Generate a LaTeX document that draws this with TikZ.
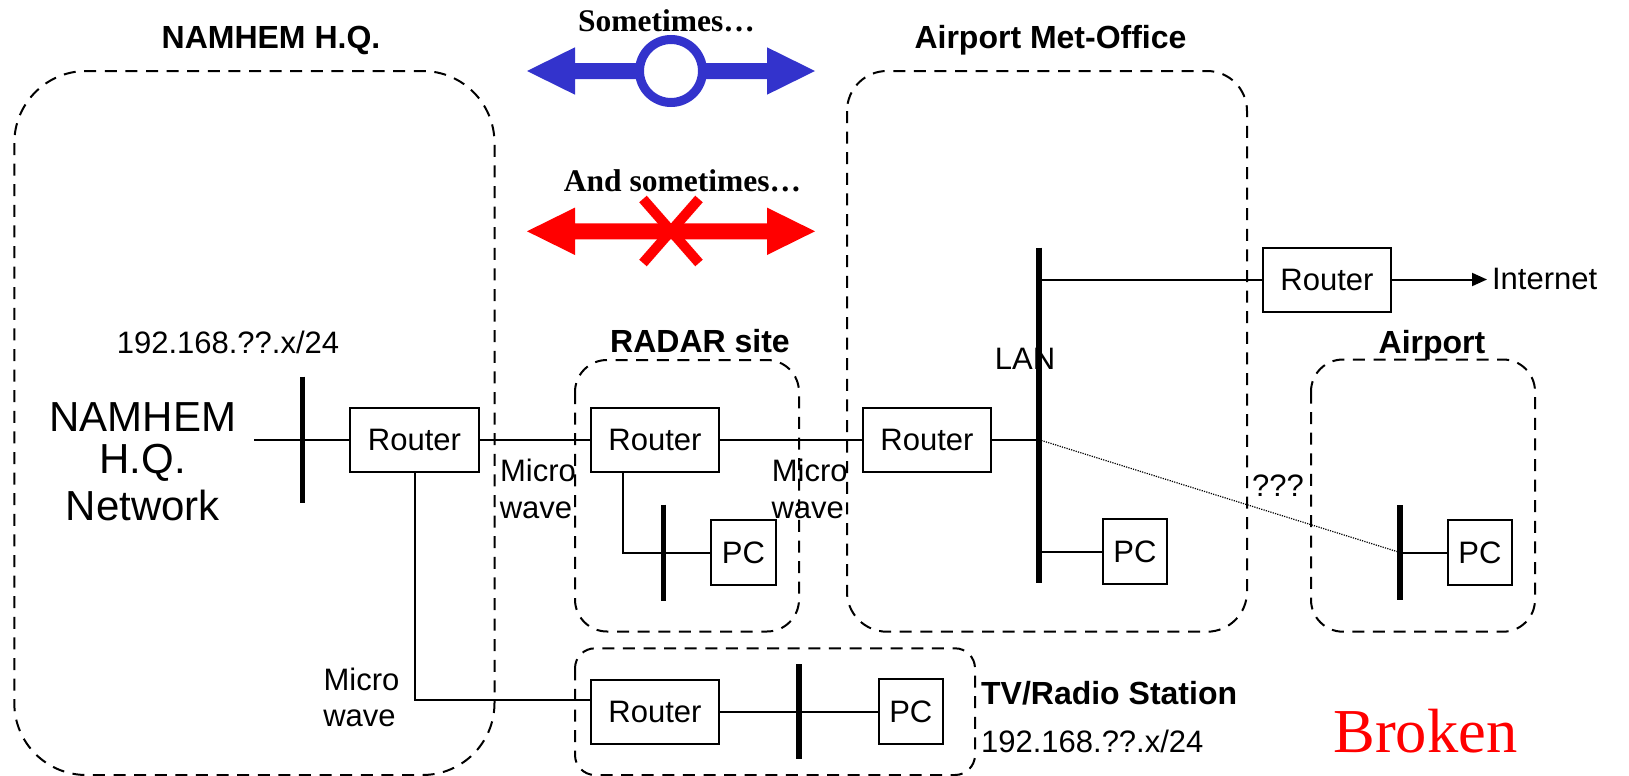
\documentclass[tikz,border=0pt]{standalone}
\usepackage{fontspec}
\setmainfont{Liberation Sans}
\newfontfamily\timesfont{Liberation Serif}
\usetikzlibrary{arrows.meta}
\definecolor{arrowblue}{RGB}{51,51,204}
\newcommand\nsz{\fontsize{15.5}{18}\selectfont}
\newcommand\bsz{\fontsize{16}{19}\selectfont\bfseries}
\begin{document}
\begin{tikzpicture}[x=0.5pt,y=-0.5pt,
  wire/.style={line width=1pt},
  dotwire/.style={line width=0.6pt, dash pattern=on 0.6pt off 0.6pt},
  bus/.style={line width=2.6pt},
  zone/.style={draw, line width=1pt, dash pattern=on 6pt off 4.3pt},
  router/.style={draw, fill=white, line width=1pt, minimum width=64.3pt, minimum height=32pt, inner sep=0pt, font=\nsz},
  pc/.style={draw, fill=white, line width=1pt, minimum width=32.3pt, minimum height=32.3pt, inner sep=0pt, font=\nsz},
  lbl/.style={inner sep=0pt, font=\nsz},
  bigl/.style={inner sep=0pt, font=\fontsize{21}{22}\selectfont},
  ttl/.style={inner sep=0pt, font=\bsz},
  serifb/.style={inner sep=0pt, font=\timesfont\bfseries\fontsize{15.75}{18}\selectfont},
]
\useasboundingbox (0,0) rectangle (1629,776);

% zones
\draw[zone, rounded corners=36pt] (14.3,71) rectangle (494.5,775);
\draw[zone, rounded corners=20pt] (847,71) rectangle (1247,631.7);
\draw[zone, rounded corners=16pt] (575,360) rectangle (799,631.5);
\draw[zone, rounded corners=16pt] (1311,359.5) rectangle (1535,631.7);
\draw[zone, rounded corners=10pt] (575,648.3) rectangle (975,775);

% titles
\node[ttl, anchor=base] (tHQ) at (271,48) {NAMHEM H.Q.};
\node[ttl, anchor=base] (tMet) at (1050.5,48.3) {Airport Met-Office};
\node[ttl, anchor=base] (tRadar) at (700,352.7) {RADAR site};
\node[ttl, anchor=base] (tAirport) at (1432,353.3) {Airport};
\node[ttl, anchor=base west] (tTV) at (980.7,704) {TV/Radio Station};
\node[lbl, anchor=base west] (ipTV) at (980.7,752.7) {192.168.??.x/24};
\node[lbl, anchor=base] (ipHQ) at (228,353.3) {192.168.??.x/24};

% HQ network label
\node[bigl, anchor=base] (hq1) at (142.7,431.7) {NAMHEM};
\node[bigl, anchor=base] (hq2) at (142.7,473.3) {H.Q.};
\node[bigl, anchor=base] (hq3) at (142.7,520) {Network};

% microwave labels
\node[lbl, anchor=base] (mw1a) at (538,481.7) {Micro};
\node[lbl, anchor=base] (mw1b) at (536,518.3) {wave};
\node[lbl, anchor=base] (mw2a) at (809.7,481.7) {Micro};
\node[lbl, anchor=base] (mw2b) at (807.7,518.3) {wave};
\node[lbl, anchor=base] (mw3a) at (361.5,690) {Micro};
\node[lbl, anchor=base] (mw3b) at (359.5,726.7) {wave};

\node[lbl, anchor=base] (lan) at (1025,369.3) {LAN};
\node[lbl, anchor=base west] (qqq) at (1251.7,496.7) {???};
\node[lbl, anchor=base west] (inet) at (1491.7,289.3) {Internet};

% top legend
\node[serifb, anchor=base] (some1) at (666.5,32) {Sometimes…};
\node[serifb, anchor=base] (some2) at (682.5,191.7) {And sometimes…};
\fill[arrowblue] (527,71) -- (575,47.3) -- (575,63) -- (767,63) -- (767,47.3) -- (815,71)
  -- (767,94.7) -- (767,79) -- (575,79) -- (575,94.7) -- cycle;
\draw[arrowblue, line width=4.5pt, fill=white] (671,71) circle[radius=15.75pt];
\fill[red] (527,231.3) -- (575,207.6) -- (575,223.3) -- (767,223.3) -- (767,207.6) -- (815,231.3)
  -- (767,255) -- (767,239.3) -- (575,239.3) -- (575,255) -- cycle;
\draw[red, line width=5pt] (643,199) -- (699,263) (699,199) -- (643,263);

\node[inner sep=0pt, font=\timesfont\fontsize{31.25}{36}\selectfont, text=red, anchor=base west] (broken) at (1333,752) {Broken};

% devices
\node[router] (hqR) at (414.5,439.7) {Router};
\node[router] (rdR) at (655,439.7) {Router};
\node[router] (mtR) at (927,439.7) {Router};
\node[router] (inR) at (1327,279.5) {Router};
\node[router] (tvR) at (655,711.5) {Router};
\node[pc] (rdPC) at (743.5,552.6) {PC};
\node[pc] (mtPC) at (1135,551.7) {PC};
\node[pc] (apPC) at (1480,552.5) {PC};
\node[pc] (tvPC) at (910.8,711.5) {PC};

% buses
\coordinate (hqBt) at (302.7,376.7); \coordinate (hqBb) at (302.7,502.7);
\coordinate (rdBt) at (663.3,504.7); \coordinate (rdBb) at (663.3,600.7);
\coordinate (lnBt) at (1039,247.7);  \coordinate (lnBb) at (1039,583.3);
\coordinate (apBt) at (1400,505);    \coordinate (apBb) at (1400,600);
\coordinate (tvBt) at (799,664.3);   \coordinate (tvBb) at (799,759);

% connector ends
\coordinate (hqStub) at (254,439.7);
\coordinate (lanR) at (1039,439.7);
\coordinate (lanI) at (1039,279.5);
\coordinate (lanP) at (1039,551.7);
\coordinate (apJ) at (1400,552.5);
\coordinate (inTip) at (1487,279.5);

% wires
\draw[wire] (hqStub) -- (hqR.west);
\draw[wire] (hqR.east) -- (rdR.west);
\draw[wire] (rdR.east) -- (mtR.west);
\draw[wire] (mtR.east) -- (lanR);
\draw[wire] (lanI) -- (inR.west);
\draw[wire] (lanP) -- (mtPC.west);
\draw[dotwire] (lanR) -- (apJ);
\draw[wire] (apJ) -- (apPC.west);
\draw[wire] ([xshift=-16.15pt]rdR.south) |- (rdPC.west);
\draw[wire] (hqR.south) |- ([yshift=6pt]tvR.west);
\draw[wire] (tvR.east) -- (tvPC.west);
\draw[wire, -{Triangle[length=7.5pt,width=6.5pt]}] (inR.east) -- (inTip);

\draw[bus] (hqBt) -- (hqBb);
\draw[bus] (rdBt) -- (rdBb);
\draw[bus] (lnBt) -- (lnBb);
\draw[bus] (apBt) -- (apBb);
\draw[bus] (tvBt) -- (tvBb);
\end{tikzpicture}
\end{document}
